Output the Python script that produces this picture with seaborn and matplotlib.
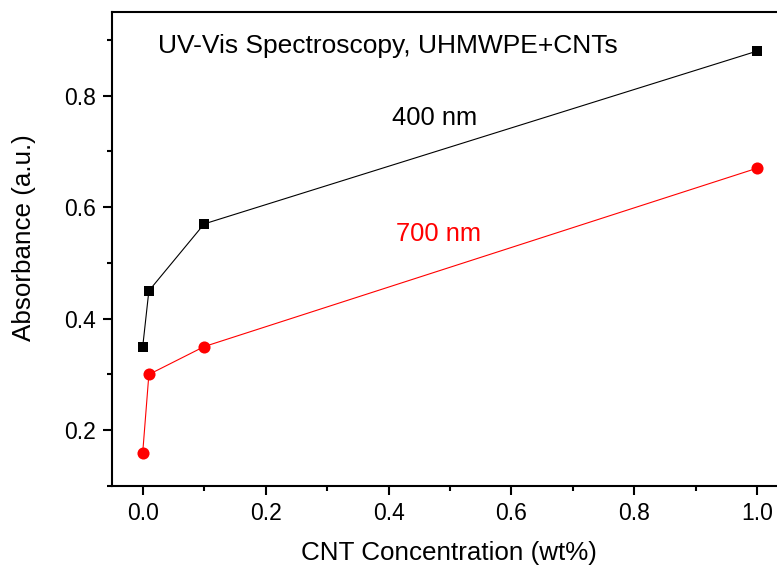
import matplotlib
matplotlib.use("Agg")
import matplotlib.pyplot as plt
import seaborn as sns
import pandas as pd
from matplotlib.ticker import MultipleLocator

conc = [0.0, 0.01, 0.1, 1.0]
abs_400 = [0.35, 0.45, 0.57, 0.88]
abs_700 = [0.16, 0.30, 0.35, 0.67]

sns.set_theme(style="ticks", rc={"text.color": "black", "axes.labelcolor": "black",
                                 "xtick.color": "black", "ytick.color": "black",
                                 "axes.edgecolor": "black"})
plt.rcParams['font.family'] = ['Liberation Sans', 'DejaVu Sans']

fig = plt.figure(figsize=(7.77, 5.66), dpi=100)
W, H = 777, 566
ax = fig.add_axes([112 / W, 1 - 486 / H, (788 - 112) / W, (486 - 12) / H])

df4 = pd.DataFrame({"x": conc, "y": abs_400})
df7 = pd.DataFrame({"x": conc, "y": abs_700})
sns.lineplot(data=df4, x="x", y="y", ax=ax, color="black", marker="s",
             markersize=7.8, markeredgewidth=0, linewidth=0.8)
sns.lineplot(data=df7, x="x", y="y", ax=ax, color="red", marker="o",
             markersize=8.7, markeredgewidth=0, linewidth=0.8)

ax.set_xlim(-0.05, 1.05)
ax.set_ylim(0.1, 0.95)
ax.xaxis.set_major_locator(MultipleLocator(0.2))
ax.xaxis.set_minor_locator(MultipleLocator(0.1))
ax.yaxis.set_major_locator(MultipleLocator(0.2))
ax.yaxis.set_minor_locator(MultipleLocator(0.1))
ax.tick_params(which="major", direction="out", length=6.5, width=1.5, labelsize=16.5,
               colors="black", pad=5)
ax.tick_params(which="minor", direction="out", length=3.5, width=1.5)
for s in ["left", "bottom", "top"]:
    ax.spines[s].set_linewidth(1.5)
    ax.spines[s].set_color("black")
ax.spines["right"].set_visible(False)

fig.text(449 / W, 1 - 553 / H, "CNT Concentration (wt%)", fontsize=18.7,
         va="center", ha="center")
fig.text(24 / W, 1 - 238 / H, "Absorbance (a.u.)", fontsize=18.7,
         va="center", ha="center", rotation=90)
ax.set_xlabel("")
ax.set_ylabel("")

fig.text(158 / W, 1 - 46 / H, "UV-Vis Spectroscopy, UHMWPE+CNTs",
         fontsize=19, va="center", ha="left")
fig.text(435 / W, 1 - 118 / H, "400 nm",
         fontsize=18.4, va="center", ha="center", color="black")
fig.text(438 / W, 1 - 234 / H, "700 nm",
         fontsize=18.4, va="center", ha="center", color="red")

fig.savefig("out.png", dpi=100)
